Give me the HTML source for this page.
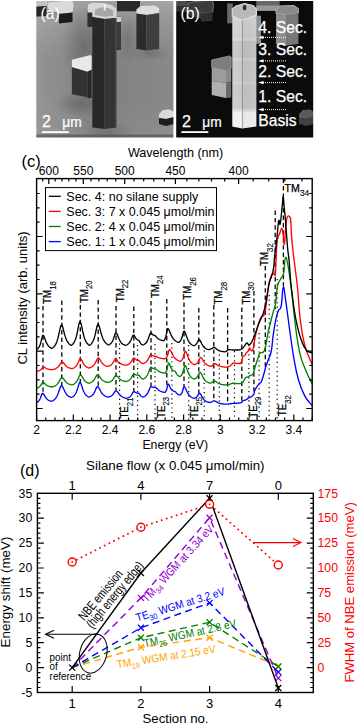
<!DOCTYPE html>
<html><head><meta charset="utf-8"><style>
html,body{margin:0;padding:0;background:#fff;overflow:hidden;width:357px;height:723px;}
svg{display:block;}
text{font-family:"Liberation Sans", sans-serif;}
</style></head><body>
<svg width="357" height="723" viewBox="0 0 357 723">
<defs>
<linearGradient id="bgA" x1="0" y1="0" x2="0" y2="1">
 <stop offset="0" stop-color="#a6a6a6"/><stop offset="0.17" stop-color="#939393"/>
 <stop offset="0.4" stop-color="#838383"/><stop offset="0.7" stop-color="#838383"/><stop offset="1" stop-color="#8b8b8b"/></linearGradient>
<linearGradient id="bgAh" x1="0" y1="0" x2="1" y2="0">
 <stop offset="0" stop-color="#ffffff" stop-opacity="0.16"/><stop offset="0.25" stop-color="#ffffff" stop-opacity="0.05"/>
 <stop offset="0.45" stop-color="#000000" stop-opacity="0.04"/><stop offset="0.8" stop-color="#ffffff" stop-opacity="0.02"/>
 <stop offset="1" stop-color="#ffffff" stop-opacity="0.06"/></linearGradient>
<radialGradient id="shA" cx="0.5" cy="0.5" r="0.5">
 <stop offset="0" stop-color="#5a5a5a" stop-opacity="0.7"/><stop offset="1" stop-color="#5a5a5a" stop-opacity="0"/></radialGradient>
<linearGradient id="pilB" x1="0" y1="0" x2="0" y2="1">
 <stop offset="0" stop-color="#d4d4d4"/><stop offset="0.21" stop-color="#cecece"/>
 <stop offset="0.215" stop-color="#d6d6d6"/><stop offset="0.235" stop-color="#d4d4d4"/>
 <stop offset="0.24" stop-color="#c4c4c4"/><stop offset="0.38" stop-color="#c6c6c6"/>
 <stop offset="0.385" stop-color="#d2d2d2"/><stop offset="0.41" stop-color="#d0d0d0"/>
 <stop offset="0.415" stop-color="#c8c8c8"/><stop offset="0.59" stop-color="#cacaca"/>
 <stop offset="0.595" stop-color="#d2d2d2"/><stop offset="0.62" stop-color="#cecece"/>
 <stop offset="0.625" stop-color="#c6c6c6"/><stop offset="0.83" stop-color="#cbcbcb"/>
 <stop offset="0.835" stop-color="#dcdcdc"/><stop offset="0.855" stop-color="#e6e6e6"/>
 <stop offset="0.86" stop-color="#f2f2f2"/><stop offset="1" stop-color="#f4f4f4"/></linearGradient>
<linearGradient id="pilBh" x1="0" y1="0" x2="1" y2="0">
 <stop offset="0" stop-color="#ffffff" stop-opacity="0.12"/><stop offset="0.4" stop-color="#ffffff" stop-opacity="0"/>
 <stop offset="0.42" stop-color="#000000" stop-opacity="0.05"/><stop offset="1" stop-color="#000000" stop-opacity="0.02"/></linearGradient>
<filter id="soft" x="-5%" y="-5%" width="110%" height="110%" color-interpolation-filters="sRGB"><feGaussianBlur stdDeviation="0.45"/></filter>
<clipPath id="clipA"><rect x="36.3" y="1" width="137.1" height="136.5"/></clipPath>
<clipPath id="clipB"><rect x="176.2" y="1" width="137" height="136.6"/></clipPath>
</defs>
<g clip-path="url(#clipA)"><g filter="url(#soft)">
<rect x="30" y="-5" width="150" height="150" fill="url(#bgA)"/>
<rect x="30" y="-5" width="150" height="150" fill="url(#bgAh)"/>
<ellipse cx="84" cy="45" rx="22" ry="38" fill="url(#shA)" opacity="0.75"/>
<ellipse cx="128" cy="38" rx="12" ry="26" fill="url(#shA)" opacity="0.6"/>
<ellipse cx="80" cy="104" rx="24" ry="13" fill="url(#shA)" opacity="0.85"/>
<ellipse cx="108" cy="131" rx="26" ry="9" fill="url(#shA)" opacity="0.6"/>
<ellipse cx="150" cy="53" rx="20" ry="8" fill="url(#shA)" opacity="0.6"/>
<polygon points="30,-2 47,-2 47,6 30,7" fill="#c2c2c2"/>
<polygon points="30,7 46.5,6 46.5,16 30,17" fill="#262626"/>
<polygon points="47.8,2.5 72.5,0 73.5,6 72.5,12.5 61,13.5 47.8,9" fill="#dadada"/>
<polygon points="47.8,9 59,14 59,21 47.8,17" fill="#8e8e8e"/>
<polygon points="59,14 72.5,12.5 72.5,22 59,23.5" fill="#1c1c1c"/>
<rect x="117" y="-2" width="23" height="13.3" fill="#2a2a2a"/>
<rect x="117" y="-2" width="23" height="3" fill="#7a7a7a"/>
<rect x="87.4" y="10" width="5.5" height="17" fill="#2e2e2e"/>
<rect x="115" y="16" width="6" height="34" fill="#3a3a3a"/>
<rect x="115" y="16.5" width="6" height="5.5" fill="#cccccc"/>
<polygon points="136.4,9.5 140.5,6 155,5.5 159.2,8.5 159.2,13 146.5,15 136.4,13.5" fill="#dedede"/>
<polygon points="136.4,13.5 146.5,15 146.5,50.5 136.4,49" fill="#2c2c2c"/>
<polygon points="146.5,15 159.2,13 159.2,49 146.5,50.5" fill="#3e3e3e"/>
<polygon points="71.9,59.7 90.4,55 91.6,56.3 91.6,69.7 87.4,71.7 71.9,67.2" fill="#e8e8e8"/>
<polygon points="71.9,67.2 87.4,71.7 87.4,97.3 71.9,94.3" fill="#323232"/>
<polygon points="87.4,71.7 91.6,69.7 91.6,97.9 87.4,98.3" fill="#262626"/>
<polygon points="92.3,16.8 104.6,18.8 104.6,129 92.3,127.5" fill="#282828"/>
<polygon points="104.6,18.8 116.4,17.5 116.4,127.5 104.6,129" fill="#343434"/>
<polygon points="87.4,12.5 88,4.5 92,2.8 104,3 112,5.3 116.5,9 116.5,17.8 104.6,18.8 92.3,16.8 92.3,12.5" fill="#d6d6d6"/>
<polygon points="95,9.5 104,6.8 113.3,10 113.3,16 104.6,16.8 95,15" fill="#a6a6a6"/>
<rect x="103.7" y="4.3" width="2" height="6.2" fill="#f2f2f2"/>
<line x1="116" y1="18" x2="116" y2="128" stroke="#5a5a5a" stroke-width="0.8"/>
<polygon points="159,114 163,110 170,109.5 174,112 174,117 166,119 159,118" fill="#dadada"/>
<polygon points="159,118 166,119 174,117 174,124 166,126 159,124" fill="#1e1e1e"/>
<rect x="30" y="134.5" width="150" height="4" fill="#4a4a4a" opacity="0.6"/>
</g>
<text x="40.4" y="19.3" font-size="15.8" fill="#fff" text-anchor="start" >(a)</text>
<text x="42.0" y="127.0" font-size="16" fill="#fff" text-anchor="start" stroke="#fff" stroke-width="0.25">2</text>
<text x="62.3" y="126.8" font-size="15.3" fill="#fff" stroke="#fff" stroke-width="0.25" transform="translate(62.3,0) scale(0.9,1) translate(-62.3,0)">μm</text>
<rect x="41.9" y="131.2" width="26.9" height="1.8" fill="#fff"/>
</g>
<g clip-path="url(#clipB)"><g filter="url(#soft)">
<rect x="170" y="-5" width="150" height="150" fill="#0b0b0b"/>
<polygon points="170,-2 187,-2 187,6 170,7" fill="#4a4a4a"/>
<polygon points="170,7 187,6 187,12 170,11" fill="#2e2e2e"/>
<polygon points="188,2.5 212.5,0 213.5,6 212.5,12 201,13 188,9" fill="#3c3c3c" stroke="#6a6a6a" stroke-width="1.2"/>
<polygon points="188,9 201,13 201,19 188,15" fill="#3a3a3a"/>
<polygon points="201,13 212.5,12 212.5,21 201,21.8" fill="#303030"/>
<rect x="256.3" y="-2" width="23.3" height="12.8" fill="#686868"/>
<rect x="256.3" y="5.5" width="23.3" height="5.3" fill="#9a9a9a"/>
<rect x="227.2" y="3.4" width="5.6" height="20" fill="#6a6a6a"/>
<rect x="255" y="15.7" width="6" height="28" fill="#909090"/>
<polygon points="276,9.5 280,6 294,5.5 298.4,8.5 298.4,13 286,15 276,13.5" fill="#8a8a8a" stroke="#b0b0b0" stroke-width="1"/>
<polygon points="276,13.5 286,15 286,45.5 276,44" fill="#8e8e8e"/>
<polygon points="286,15 298.4,13 298.4,44 286,45.5" fill="#787878"/>
<polygon points="211.7,60 229.5,55.9 231.2,57 231.2,68.5 226,70.5 211.7,67" fill="#7e7e7e" stroke="#a0a0a0" stroke-width="0.8"/>
<polygon points="211.7,67 226,70.5 226,83 211.7,81" fill="#9c9c9c"/>
<polygon points="226,70.5 231.2,68.5 231.2,82 226,83" fill="#8a8a8a"/>
<polygon points="211.7,81 226,83 226,98 211.7,95" fill="#b0b0b0"/>
<polygon points="226,83 231.2,82 231.2,97.5 226,98" fill="#686868"/>
<polygon points="232.3,14 242.4,18 242.4,128.5 232.3,126.5" fill="url(#pilB)"/>
<polygon points="242.4,18 256.4,14 256.4,126.5 242.4,128.5" fill="url(#pilB)"/>
<polygon points="232.3,14 242.4,18 256.4,14 256.4,128 242.4,129.5 232.3,127" fill="url(#pilBh)"/>
<polygon points="232.3,9 236,6 244.5,3.5 253,5.5 256.4,9 256.4,15 242.4,20 232.3,16" fill="#b8b8b8" stroke="#dadada" stroke-width="1.2"/>
<ellipse cx="244.6" cy="7.5" rx="1.8" ry="2.8" fill="#2a2a2a"/>
<line x1="242.4" y1="20" x2="242.4" y2="128" stroke="#9a9a9a" stroke-width="0.6"/>
<polygon points="299,114 303,110 310,109.5 314,112 314,117 306,119 299,118" fill="#5a5a5a"/>
<polygon points="299,118 306,119 314,117 314,124 306,126 299,124" fill="#404040"/>
</g>
<text x="180.4" y="19.3" font-size="15.8" fill="#fff" text-anchor="start" >(b)</text>
<text x="182.0" y="127.0" font-size="16" fill="#fff" text-anchor="start" stroke="#fff" stroke-width="0.25">2</text>
<text x="202.3" y="126.8" font-size="15.3" fill="#fff" stroke="#fff" stroke-width="0.25" transform="translate(202.3,0) scale(0.9,1) translate(-202.3,0)">μm</text>
<rect x="181.4" y="131.2" width="26.9" height="1.8" fill="#fff"/>
<text x="258.3" y="33.2" font-size="15.7" fill="#fff" text-anchor="start" stroke="#fff" stroke-width="0.25">4. Sec.</text>
<text x="258.3" y="54.7" font-size="15.7" fill="#fff" text-anchor="start" stroke="#fff" stroke-width="0.25">3. Sec.</text>
<text x="258.3" y="77.0" font-size="15.7" fill="#fff" text-anchor="start" stroke="#fff" stroke-width="0.25">2. Sec.</text>
<text x="258.3" y="102.0" font-size="15.7" fill="#fff" text-anchor="start" stroke="#fff" stroke-width="0.25">1. Sec.</text>
<text x="258.3" y="125.6" font-size="15.7" fill="#fff" text-anchor="start" stroke="#fff" stroke-width="0.25">Basis</text>
<line x1="263" y1="37.4" x2="287" y2="37.4" stroke="#fff" stroke-width="1" stroke-dasharray="1,1"/>
<polygon points="258,37.4 263.5,35.8 263.5,39.0" fill="#fff"/>
<line x1="263" y1="60.9" x2="287" y2="60.9" stroke="#fff" stroke-width="1" stroke-dasharray="1,1"/>
<polygon points="258,60.9 263.5,59.3 263.5,62.5" fill="#fff"/>
<line x1="263" y1="82.6" x2="287" y2="82.6" stroke="#fff" stroke-width="1" stroke-dasharray="1,1"/>
<polygon points="258,82.6 263.5,81.0 263.5,84.2" fill="#fff"/>
<line x1="263" y1="109.6" x2="287" y2="109.6" stroke="#fff" stroke-width="1" stroke-dasharray="1,1"/>
<polygon points="258,109.6 263.5,108.0 263.5,111.2" fill="#fff"/>
</g>
<defs><clipPath id="clipC"><rect x="36.6" y="178.6" width="275.6" height="242.0"/></clipPath></defs>
<g clip-path="url(#clipC)">
<line x1="43.0" y1="306.0" x2="43.0" y2="393.2" stroke="#000" stroke-width="1.3" stroke-dasharray="4.4,3"/>
<line x1="61.8" y1="300.5" x2="61.8" y2="385.6" stroke="#000" stroke-width="1.3" stroke-dasharray="4.4,3"/>
<line x1="80.3" y1="305.0" x2="80.3" y2="382.4" stroke="#000" stroke-width="1.3" stroke-dasharray="4.4,3"/>
<line x1="98.2" y1="300.0" x2="98.2" y2="386.8" stroke="#000" stroke-width="1.3" stroke-dasharray="4.4,3"/>
<line x1="116.0" y1="306.0" x2="116.0" y2="390.3" stroke="#000" stroke-width="1.3" stroke-dasharray="4.4,3"/>
<line x1="133.8" y1="306.5" x2="133.8" y2="391.3" stroke="#000" stroke-width="1.3" stroke-dasharray="4.4,3"/>
<line x1="151.0" y1="301.0" x2="151.0" y2="386.1" stroke="#000" stroke-width="1.3" stroke-dasharray="4.4,3"/>
<line x1="166.8" y1="299.0" x2="166.8" y2="386.9" stroke="#000" stroke-width="1.3" stroke-dasharray="4.4,3"/>
<line x1="184.0" y1="302.5" x2="184.0" y2="386.1" stroke="#000" stroke-width="1.3" stroke-dasharray="4.4,3"/>
<line x1="198.8" y1="308.0" x2="198.8" y2="393.4" stroke="#000" stroke-width="1.3" stroke-dasharray="4.4,3"/>
<line x1="213.8" y1="305.0" x2="213.8" y2="400.3" stroke="#000" stroke-width="1.3" stroke-dasharray="4.4,3"/>
<line x1="227.6" y1="308.0" x2="227.6" y2="403.5" stroke="#000" stroke-width="1.3" stroke-dasharray="4.4,3"/>
<line x1="241.8" y1="307.5" x2="241.8" y2="401.1" stroke="#000" stroke-width="1.3" stroke-dasharray="4.4,3"/>
<line x1="253.9" y1="291.0" x2="253.9" y2="392.8" stroke="#000" stroke-width="1.3" stroke-dasharray="4.4,3"/>
<line x1="265.3" y1="266.0" x2="265.3" y2="368.1" stroke="#000" stroke-width="1.3" stroke-dasharray="4.4,3"/>
<line x1="275.2" y1="210.5" x2="275.2" y2="309.0" stroke="#000" stroke-width="1.3" stroke-dasharray="4.4,3"/>
<line x1="283.4" y1="178.6" x2="283.4" y2="288.0" stroke="#000" stroke-width="1.3" stroke-dasharray="4.4,3"/>
<line x1="119.6" y1="343.5" x2="119.6" y2="420.6" stroke="#000" stroke-width="1.2" stroke-dasharray="1.2,3.4"/>
<line x1="137.6" y1="345.0" x2="137.6" y2="420.6" stroke="#000" stroke-width="1.2" stroke-dasharray="1.2,3.4"/>
<line x1="155.0" y1="344.0" x2="155.0" y2="420.6" stroke="#000" stroke-width="1.2" stroke-dasharray="1.2,3.4"/>
<line x1="171.9" y1="343.0" x2="171.9" y2="420.6" stroke="#000" stroke-width="1.2" stroke-dasharray="1.2,3.4"/>
<line x1="188.7" y1="345.0" x2="188.7" y2="420.6" stroke="#000" stroke-width="1.2" stroke-dasharray="1.2,3.4"/>
<line x1="204.2" y1="346.0" x2="204.2" y2="420.6" stroke="#000" stroke-width="1.2" stroke-dasharray="1.2,3.4"/>
<line x1="219.3" y1="350.0" x2="219.3" y2="420.6" stroke="#000" stroke-width="1.2" stroke-dasharray="1.2,3.4"/>
<line x1="234.5" y1="351.0" x2="234.5" y2="420.6" stroke="#000" stroke-width="1.2" stroke-dasharray="1.2,3.4"/>
<line x1="248.9" y1="345.0" x2="248.9" y2="420.6" stroke="#000" stroke-width="1.2" stroke-dasharray="1.2,3.4"/>
<line x1="259.1" y1="333.0" x2="259.1" y2="420.6" stroke="#000" stroke-width="1.2" stroke-dasharray="1.2,3.4"/>
<line x1="269.2" y1="295.0" x2="269.2" y2="420.6" stroke="#000" stroke-width="1.2" stroke-dasharray="1.2,3.4"/>
<line x1="277.2" y1="279.0" x2="277.2" y2="420.6" stroke="#000" stroke-width="1.2" stroke-dasharray="1.2,3.4"/>
</g>
<g clip-path="url(#clipC)" fill="none" stroke-width="1.35" stroke-linejoin="round">
<path d="M36.50,402.50 L37.00,402.28 L37.50,402.01 L38.00,401.66 L38.50,401.22 L39.00,400.66 L39.50,399.93 L40.00,399.00 L40.50,397.83 L41.00,396.44 L41.50,394.97 L42.00,393.77 L42.50,393.30 L43.00,393.49 L43.50,394.01 L44.00,394.75 L44.50,395.60 L45.00,396.45 L45.50,397.24 L46.00,397.94 L46.50,398.55 L47.00,399.07 L47.50,399.51 L48.00,399.88 L48.50,400.19 L49.00,400.45 L49.50,400.68 L50.00,400.87 L50.50,401.04 L51.00,401.18 L51.50,401.30 L52.00,401.09 L52.50,400.84 L53.00,400.56 L53.50,400.25 L54.00,399.88 L54.50,399.46 L55.00,398.96 L55.50,398.39 L56.00,397.73 L56.50,396.95 L57.00,396.05 L57.50,395.00 L58.00,393.81 L58.50,392.47 L59.00,391.02 L59.50,389.51 L60.00,388.06 L60.50,386.83 L61.00,386.00 L61.50,385.70 L62.00,385.93 L62.50,386.56 L63.00,387.49 L63.50,388.58 L64.00,389.72 L64.50,390.82 L65.00,391.84 L65.50,392.74 L66.00,393.53 L66.50,394.21 L67.00,394.80 L67.50,395.30 L68.00,395.73 L68.50,396.10 L69.00,396.43 L69.50,396.70 L70.00,396.94 L70.50,397.15 L71.00,397.34 L71.50,397.50 L72.00,397.25 L72.50,396.97 L73.00,396.63 L73.50,396.23 L74.00,395.77 L74.50,395.21 L75.00,394.54 L75.50,393.75 L76.00,392.79 L76.50,391.66 L77.00,390.32 L77.50,388.80 L78.00,387.12 L78.50,385.41 L79.00,383.88 L79.50,382.80 L80.00,382.40 L80.50,382.74 L81.00,383.70 L81.50,385.07 L82.00,386.62 L82.50,388.18 L83.00,389.64 L83.50,390.93 L84.00,392.05 L84.50,393.00 L85.00,393.81 L85.50,394.49 L86.00,395.06 L86.50,395.55 L87.00,395.96 L87.50,396.31 L88.00,396.61 L88.50,396.87 L89.00,397.10 L89.50,396.93 L90.00,396.73 L90.50,396.49 L91.00,396.22 L91.50,395.89 L92.00,395.51 L92.50,395.04 L93.00,394.49 L93.50,393.83 L94.00,393.04 L94.50,392.11 L95.00,391.05 L95.50,389.88 L96.00,388.70 L96.50,387.63 L97.00,386.88 L97.50,386.60 L98.00,386.78 L98.50,387.30 L99.00,388.06 L99.50,388.97 L100.00,389.94 L100.50,390.89 L101.00,391.77 L101.50,392.57 L102.00,393.28 L102.50,393.89 L103.00,394.43 L103.50,394.90 L104.00,395.30 L104.50,395.64 L105.00,395.94 L105.50,396.21 L106.00,396.43 L106.50,396.63 L107.00,396.81 L107.50,396.96 L108.00,397.10 L108.50,396.99 L109.00,396.86 L109.50,396.71 L110.00,396.53 L110.50,396.31 L111.00,396.05 L111.50,395.73 L112.00,395.34 L112.50,394.88 L113.00,394.32 L113.50,393.68 L114.00,392.95 L114.50,392.19 L115.00,391.49 L115.50,390.99 L116.00,390.80 L116.50,390.93 L117.00,391.30 L117.50,391.84 L118.00,392.50 L118.50,393.19 L119.00,393.86 L119.50,394.49 L120.00,395.06 L120.50,395.57 L121.00,396.01 L121.50,396.39 L122.00,396.73 L122.50,397.01 L123.00,397.26 L123.50,397.47 L124.00,397.66 L124.50,397.82 L125.00,397.97 L125.50,398.09 L126.00,398.20 L126.50,398.30 L127.00,398.17 L127.50,398.03 L128.00,397.85 L128.50,397.63 L129.00,397.37 L129.50,397.05 L130.00,396.66 L130.50,396.18 L131.00,395.60 L131.50,394.90 L132.00,394.10 L132.50,393.24 L133.00,392.43 L133.50,391.82 L134.00,391.60 L134.50,391.72 L135.00,392.02 L135.50,392.34 L136.00,392.61 L136.50,392.83 L137.00,392.98 L137.50,393.10 L138.00,393.19 L138.50,393.25 L139.00,393.30 L139.50,393.72 L140.00,394.60 L140.50,395.43 L141.00,396.04 L141.50,396.46 L142.00,396.75 L142.50,396.96 L143.00,397.10 L143.50,396.92 L144.00,396.70 L144.50,396.45 L145.00,396.14 L145.50,395.78 L146.00,395.34 L146.50,394.81 L147.00,394.17 L147.50,393.40 L148.00,392.47 L148.50,391.39 L149.00,390.18 L149.50,388.91 L150.00,387.75 L150.50,386.91 L151.00,386.60 L151.50,386.69 L152.00,386.87 L152.50,387.05 L153.00,387.18 L153.50,387.27 L154.00,387.33 L154.50,387.37 L155.00,387.40 L155.50,387.50 L156.00,387.76 L156.50,388.16 L157.00,388.62 L157.50,389.10 L158.00,389.57 L158.50,390.00 L159.00,390.38 L159.50,390.72 L160.00,391.01 L160.50,391.25 L161.00,391.47 L161.50,391.65 L162.00,391.81 L162.50,391.94 L163.00,392.06 L163.50,392.16 L164.00,392.25 L164.50,392.33 L165.00,392.40 L165.50,391.95 L166.00,391.23 L166.50,390.06 L167.00,388.14 L167.50,385.52 L168.00,384.00 L168.50,384.29 L169.00,385.06 L169.50,386.07 L170.00,387.10 L170.50,388.04 L171.00,388.83 L171.50,389.48 L172.00,390.00 L172.50,390.42 L173.00,390.76 L173.50,391.04 L174.00,391.26 L174.50,391.45 L175.00,391.60 L175.50,391.85 L176.00,392.43 L176.50,393.08 L177.00,393.63 L177.50,394.05 L178.00,394.37 L178.50,394.60 L179.00,394.77 L179.50,394.90 L180.00,395.00 L180.50,394.68 L181.00,394.23 L181.50,393.59 L182.00,392.66 L182.50,391.30 L183.00,389.46 L183.50,387.52 L184.00,386.60 L184.50,386.82 L185.00,387.45 L185.50,388.37 L186.00,389.46 L186.50,390.59 L187.00,391.68 L187.50,392.68 L188.00,393.58 L188.50,394.36 L189.00,395.04 L189.50,395.62 L190.00,396.12 L190.50,396.55 L191.00,396.92 L191.50,397.23 L192.00,397.51 L192.50,397.75 L193.00,397.96 L193.50,398.14 L194.00,398.30 L194.50,398.17 L195.00,398.00 L195.50,397.79 L196.00,397.50 L196.50,397.13 L197.00,396.64 L197.50,396.01 L198.00,395.22 L198.50,394.35 L199.00,393.60 L199.50,393.30 L200.01,393.49 L200.52,394.04 L201.03,394.82 L201.54,395.73 L202.05,396.67 L202.56,397.55 L203.07,398.35 L203.58,399.06 L204.09,399.66 L204.61,400.18 L205.12,400.63 L205.63,401.00 L206.14,401.33 L206.65,401.60 L207.16,401.84 L207.67,402.04 L208.18,402.21 L208.69,402.37 L209.20,402.50 L209.71,402.44 L210.22,402.37 L210.73,402.26 L211.24,402.12 L211.76,401.92 L212.27,401.64 L212.78,401.29 L213.29,400.95 L213.80,400.80 L214.32,400.85 L214.84,401.01 L215.35,401.24 L215.87,401.51 L216.39,401.81 L216.91,402.11 L217.43,402.39 L217.95,402.64 L218.46,402.87 L218.98,403.07 L219.50,403.25 L220.02,403.41 L220.54,403.54 L221.05,403.66 L221.57,403.76 L222.09,403.85 L222.61,403.93 L223.13,404.00 L223.65,404.06 L224.16,404.11 L224.68,404.16 L225.20,404.20 L225.72,404.19 L226.24,404.17 L226.76,404.15 L227.28,404.12 L227.80,404.09 L228.32,404.05 L228.84,404.00 L229.36,403.95 L229.88,403.88 L230.40,403.79 L230.92,403.70 L231.44,403.60 L231.96,403.50 L232.48,403.43 L233.00,403.40 L233.50,403.39 L234.00,403.38 L234.50,403.36 L235.00,403.34 L235.50,403.32 L236.00,403.30 L236.50,403.26 L237.00,403.22 L237.50,403.17 L238.00,403.10 L238.50,403.04 L239.00,402.97 L239.50,402.92 L240.00,402.90 L240.57,402.77 L241.13,402.57 L241.70,402.23 L242.27,401.68 L242.83,400.94 L243.40,400.50 L243.94,400.42 L244.48,400.32 L245.02,400.18 L245.56,400.00 L246.10,399.75 L246.64,399.41 L247.18,398.97 L247.72,398.46 L248.26,398.00 L248.80,397.80 L248.8,397.8 C249.9,397.2 251.8,397.0 253.3,395.1 C254.8,393.2 253.8,392.2 255.1,389.7 C256.4,387.2 257.2,386.2 258.7,384.3 C260.2,382.4 260.2,384.1 261.4,381.6 C262.6,379.1 262.9,377.1 264.0,373.5 C265.1,369.9 264.8,369.7 265.9,366.3 C267.0,362.9 267.3,362.7 268.6,359.1 C269.9,355.5 270.2,356.4 271.3,351.0 C272.4,345.6 272.1,343.1 273.1,335.8 C274.2,328.5 274.5,325.5 275.8,319.6 C277.1,313.7 277.2,313.8 278.5,310.6 C279.8,307.4 280.1,311.4 281.2,306.0 C282.3,300.6 282.2,289.1 283.2,287.5 C284.2,285.9 284.1,290.0 285.5,299.1 C286.9,308.2 287.3,312.8 289.2,326.4 C291.1,340.0 291.6,345.1 293.7,357.4 C295.8,369.7 295.8,370.4 298.3,379.3 C300.8,388.2 301.4,389.4 304.6,395.6 C307.8,401.8 310.4,403.3 312.2,405.7" stroke="#0000ff"/>
<path d="M36.50,388.20 L37.00,388.07 L37.50,387.92 L38.00,387.73 L38.50,387.49 L39.00,387.19 L39.50,386.81 L40.00,386.33 L40.50,385.73 L41.00,385.00 L41.50,384.16 L42.00,383.32 L42.50,382.66 L43.00,382.40 L43.50,382.51 L44.00,382.81 L44.50,383.23 L45.00,383.72 L45.50,384.21 L46.00,384.66 L46.50,385.07 L47.00,385.42 L47.50,385.72 L48.00,385.97 L48.50,386.18 L49.00,386.36 L49.50,386.51 L50.00,386.64 L50.50,386.75 L51.00,386.85 L51.50,386.93 L52.00,387.00 L52.50,386.87 L53.00,386.72 L53.50,386.56 L54.00,386.36 L54.50,386.14 L55.00,385.89 L55.50,385.59 L56.00,385.25 L56.50,384.85 L57.00,384.38 L57.50,383.84 L58.00,383.21 L58.50,382.49 L59.00,381.68 L59.50,380.80 L60.00,379.90 L60.50,379.02 L61.00,378.28 L61.50,377.78 L62.00,377.60 L62.50,377.74 L63.00,378.13 L63.50,378.71 L64.00,379.38 L64.50,380.09 L65.00,380.77 L65.50,381.40 L66.00,381.95 L66.50,382.44 L67.00,382.86 L67.50,383.23 L68.00,383.54 L68.50,383.81 L69.00,384.04 L69.50,384.23 L70.00,384.41 L70.50,384.56 L71.00,384.69 L71.50,384.80 L72.00,384.90 L72.50,384.73 L73.00,384.54 L73.50,384.32 L74.00,384.05 L74.50,383.74 L75.00,383.37 L75.50,382.92 L76.00,382.39 L76.50,381.75 L77.00,380.99 L77.50,380.10 L78.00,379.08 L78.50,377.96 L79.00,376.82 L79.50,375.79 L80.00,375.06 L80.50,374.80 L81.00,375.02 L81.50,375.63 L82.00,376.48 L82.50,377.43 L83.00,378.36 L83.50,379.21 L84.00,379.95 L84.50,380.58 L85.00,381.11 L85.50,381.55 L86.00,381.93 L86.50,382.24 L87.00,382.50 L87.50,382.72 L88.00,382.90 L88.50,383.06 L89.00,383.20 L89.50,383.06 L90.00,382.90 L90.50,382.72 L91.00,382.50 L91.50,382.24 L92.00,381.93 L92.50,381.55 L93.00,381.11 L93.50,380.58 L94.00,379.95 L94.50,379.21 L95.00,378.36 L95.50,377.43 L96.00,376.48 L96.50,375.63 L97.00,375.02 L97.50,374.80 L98.00,374.93 L98.50,375.30 L99.00,375.86 L99.50,376.52 L100.00,377.22 L100.50,377.90 L101.00,378.54 L101.50,379.12 L102.00,379.63 L102.50,380.08 L103.00,380.47 L103.50,380.80 L104.00,381.09 L104.50,381.35 L105.00,381.56 L105.50,381.75 L106.00,381.92 L106.50,382.06 L107.00,382.19 L107.50,382.30 L108.00,382.40 L108.50,382.28 L109.00,382.14 L109.50,381.98 L110.00,381.78 L110.50,381.55 L111.00,381.26 L111.50,380.92 L112.00,380.50 L112.50,380.00 L113.00,379.40 L113.50,378.70 L114.00,377.92 L114.50,377.10 L115.00,376.35 L115.50,375.80 L116.00,375.60 L116.50,375.71 L117.00,376.03 L117.50,376.49 L118.00,377.04 L118.50,377.61 L119.00,378.16 L119.50,378.67 L120.00,379.12 L120.50,379.51 L121.00,379.86 L121.50,380.15 L122.00,380.40 L122.50,380.62 L123.00,380.80 L123.50,380.96 L124.00,381.10 L124.50,381.22 L125.00,381.33 L125.50,381.42 L126.00,381.50 L126.50,381.37 L127.00,381.22 L127.50,381.03 L128.00,380.82 L128.50,380.56 L129.00,380.24 L129.50,379.87 L130.00,379.41 L130.50,378.86 L131.00,378.20 L131.50,377.42 L132.00,376.56 L132.50,375.65 L133.00,374.82 L133.50,374.22 L134.00,374.00 L134.50,374.09 L135.00,374.32 L135.50,374.56 L136.00,374.78 L136.50,374.94 L137.00,375.06 L137.50,375.15 L138.00,375.21 L138.50,375.26 L139.00,375.30 L139.50,375.71 L140.00,376.56 L140.50,377.37 L141.00,377.97 L141.50,378.38 L142.00,378.66 L142.50,378.86 L143.00,379.00 L143.50,378.79 L144.00,378.55 L144.50,378.27 L145.00,377.93 L145.50,377.52 L146.00,377.02 L146.50,376.43 L147.00,375.71 L147.50,374.84 L148.00,373.80 L148.50,372.59 L149.00,371.22 L149.50,369.80 L150.00,368.49 L150.50,367.55 L151.00,367.20 L151.50,367.39 L152.00,367.78 L152.50,368.15 L153.00,368.43 L153.50,368.62 L154.00,368.75 L154.50,368.84 L155.00,368.90 L155.50,368.98 L156.00,369.21 L156.50,369.54 L157.00,369.93 L157.50,370.33 L158.00,370.72 L158.50,371.08 L159.00,371.41 L159.50,371.69 L160.00,371.93 L160.50,372.14 L161.00,372.32 L161.50,372.47 L162.00,372.60 L162.50,372.72 L163.00,372.82 L163.50,372.90 L164.00,372.98 L164.50,373.04 L165.00,373.10 L165.50,372.65 L166.00,371.99 L166.50,370.98 L167.00,369.42 L167.50,367.12 L168.00,364.41 L168.50,363.00 L169.00,363.37 L169.50,364.33 L170.00,365.55 L170.50,366.76 L171.00,367.82 L171.50,368.69 L172.00,369.38 L172.50,369.93 L173.00,370.37 L173.50,370.71 L174.00,370.99 L174.50,371.22 L175.00,371.40 L175.50,371.77 L176.00,372.65 L176.50,373.61 L177.00,374.44 L177.50,375.08 L178.00,375.55 L178.50,375.90 L179.00,376.16 L179.50,376.35 L180.00,376.50 L180.50,376.18 L181.00,375.76 L181.50,375.20 L182.00,374.45 L182.50,373.43 L183.00,372.06 L183.50,370.28 L184.00,368.19 L184.50,366.30 L185.00,365.50 L185.50,365.82 L186.00,366.69 L186.50,367.95 L187.00,369.38 L187.50,370.81 L188.00,372.15 L188.50,373.33 L189.00,374.36 L189.50,375.24 L190.00,375.98 L190.50,376.60 L191.00,377.13 L191.50,377.57 L192.00,377.95 L192.50,378.28 L193.00,378.55 L193.50,378.79 L194.00,379.00 L194.50,378.84 L195.00,378.65 L195.50,378.40 L196.00,378.08 L196.50,377.68 L197.00,377.16 L197.50,376.49 L198.00,375.65 L198.50,374.65 L199.00,373.60 L199.50,372.74 L200.00,372.40 L200.50,372.61 L201.00,373.19 L201.50,374.04 L202.00,375.04 L202.50,376.08 L203.00,377.09 L203.50,378.02 L204.00,378.84 L204.50,379.56 L205.00,380.19 L205.50,380.73 L206.00,381.19 L206.50,381.58 L207.00,381.92 L207.50,382.22 L208.00,382.47 L208.50,382.69 L209.00,382.88 L209.50,383.05 L210.00,383.20 L210.54,383.09 L211.09,382.92 L211.63,382.68 L212.17,382.29 L212.71,381.72 L213.26,381.05 L213.80,380.70 L214.32,380.77 L214.84,380.96 L215.35,381.24 L215.87,381.58 L216.39,381.95 L216.91,382.31 L217.43,382.66 L217.95,382.98 L218.46,383.26 L218.98,383.51 L219.50,383.73 L220.02,383.92 L220.54,384.09 L221.05,384.23 L221.57,384.36 L222.09,384.47 L222.61,384.56 L223.13,384.65 L223.65,384.72 L224.16,384.79 L224.68,384.85 L225.20,384.90 L225.72,384.87 L226.24,384.83 L226.76,384.79 L227.28,384.73 L227.80,384.66 L228.32,384.58 L228.84,384.48 L229.36,384.36 L229.88,384.21 L230.40,384.04 L230.92,383.83 L231.44,383.62 L231.96,383.41 L232.48,383.26 L233.00,383.20 L233.50,383.22 L234.00,383.27 L234.50,383.34 L235.00,383.40 L235.50,383.47 L236.00,383.52 L236.50,383.56 L237.00,383.60 L237.50,383.62 L238.00,383.64 L238.50,383.66 L239.00,383.68 L239.50,383.69 L240.00,383.70 L240.50,383.55 L241.00,383.36 L241.50,383.12 L242.00,382.81 L242.50,382.42 L243.00,381.92 L243.50,381.27 L244.00,380.45 L244.50,379.48 L245.00,378.46 L245.50,377.63 L246.00,377.30 L246.50,377.24 L247.00,377.15 L247.50,377.02 L248.00,376.83 L248.50,376.55 L249.00,376.18 L249.50,375.79 L250.00,375.60 L250.0,375.6 C250.7,375.2 251.8,376.0 253.0,374.0 C254.2,372.0 253.8,370.9 255.0,367.2 C256.2,363.5 256.8,361.3 258.0,358.0 C259.2,354.7 258.5,354.8 260.0,353.0 C261.5,351.2 262.7,355.0 264.6,350.1 C266.5,345.2 266.3,340.4 268.2,331.9 C270.1,323.4 271.1,320.3 272.8,313.7 C274.5,307.1 274.5,309.2 275.5,303.7 C276.5,298.2 276.4,294.6 277.0,290.0 C277.6,285.4 277.3,286.5 278.2,283.8 C279.1,281.1 279.7,280.9 281.0,278.4 C282.3,275.9 282.6,277.8 283.7,272.9 C284.8,268.0 284.4,258.7 285.5,257.4 C286.6,256.1 287.2,261.7 288.3,267.4 C289.4,273.1 289.5,275.2 290.4,282.0 C291.3,288.8 291.1,286.2 292.3,296.6 C293.5,307.0 293.7,313.1 295.5,326.4 C297.3,339.7 297.4,343.2 300.0,353.8 C302.6,364.4 303.7,365.0 306.5,372.0 C309.3,379.0 310.9,381.0 312.2,383.8" stroke="#008000"/>
<path d="M36.50,371.40 L37.00,371.32 L37.50,371.21 L38.00,371.09 L38.50,370.94 L39.00,370.75 L39.50,370.52 L40.00,370.23 L40.50,369.87 L41.00,369.43 L41.50,368.91 L42.00,368.34 L42.50,367.78 L43.00,367.36 L43.50,367.20 L44.00,367.27 L44.50,367.45 L45.00,367.70 L45.50,367.98 L46.00,368.26 L46.50,368.51 L47.00,368.73 L47.50,368.92 L48.00,369.08 L48.50,369.21 L49.00,369.32 L49.50,369.41 L50.00,369.49 L50.50,369.56 L51.00,369.61 L51.50,369.66 L52.00,369.70 L52.52,369.60 L53.03,369.48 L53.55,369.35 L54.06,369.19 L54.58,369.02 L55.09,368.81 L55.60,368.58 L56.12,368.30 L56.63,367.98 L57.15,367.61 L57.66,367.18 L58.18,366.67 L58.70,366.10 L59.21,365.46 L59.72,364.76 L60.24,364.03 L60.75,363.34 L61.27,362.75 L61.78,362.34 L62.30,362.20 L62.81,362.34 L63.32,362.71 L63.83,363.26 L64.34,363.89 L64.85,364.54 L65.36,365.16 L65.87,365.72 L66.38,366.20 L66.89,366.63 L67.41,366.99 L67.92,367.30 L68.43,367.56 L68.94,367.78 L69.45,367.97 L69.96,368.14 L70.47,368.28 L70.98,368.40 L71.49,368.51 L72.00,368.60 L72.50,368.44 L73.00,368.25 L73.50,368.04 L74.00,367.78 L74.50,367.47 L75.00,367.11 L75.50,366.68 L76.00,366.16 L76.50,365.54 L77.00,364.81 L77.50,363.94 L78.00,362.95 L78.50,361.86 L79.00,360.76 L79.50,359.76 L80.00,359.06 L80.50,358.80 L81.00,359.04 L81.50,359.70 L82.00,360.64 L82.50,361.68 L83.00,362.70 L83.50,363.63 L84.00,364.44 L84.50,365.13 L85.00,365.71 L85.50,366.20 L86.00,366.60 L86.50,366.94 L87.00,367.23 L87.50,367.47 L88.00,367.67 L88.50,367.85 L89.00,368.00 L89.52,367.85 L90.04,367.67 L90.57,367.46 L91.09,367.22 L91.61,366.94 L92.13,366.61 L92.66,366.22 L93.18,365.76 L93.70,365.21 L94.22,364.56 L94.74,363.80 L95.27,362.92 L95.79,361.94 L96.31,360.87 L96.83,359.81 L97.36,358.88 L97.88,358.23 L98.40,358.00 L98.91,358.20 L99.42,358.74 L99.93,359.52 L100.44,360.41 L100.96,361.31 L101.47,362.14 L101.98,362.87 L102.49,363.51 L103.00,364.06 L103.51,364.52 L104.02,364.91 L104.53,365.23 L105.04,365.51 L105.56,365.75 L106.07,365.95 L106.58,366.12 L107.09,366.27 L107.60,366.40 L108.12,366.26 L108.65,366.10 L109.17,365.91 L109.70,365.68 L110.22,365.41 L110.75,365.08 L111.27,364.68 L111.80,364.20 L112.33,363.62 L112.85,362.92 L113.38,362.11 L113.90,361.19 L114.42,360.24 L114.95,359.37 L115.47,358.73 L116.00,358.50 L116.50,359.05 L117.00,360.20 L117.50,361.30 L118.00,362.11 L118.50,362.66 L119.00,363.04 L119.50,363.31 L120.00,363.50 L120.50,363.59 L121.00,363.81 L121.50,364.08 L122.00,364.34 L122.50,364.55 L123.00,364.73 L123.50,364.86 L124.00,364.96 L124.50,365.05 L125.00,365.11 L125.50,365.16 L126.00,365.20 L126.50,365.07 L127.00,364.93 L127.50,364.75 L128.00,364.54 L128.50,364.29 L129.00,363.99 L129.50,363.63 L130.00,363.19 L130.50,362.66 L131.00,362.03 L131.50,361.29 L132.00,360.45 L132.50,359.59 L133.00,358.79 L133.50,358.21 L134.00,358.00 L134.50,358.20 L135.00,358.68 L135.50,359.22 L136.00,359.67 L136.50,360.02 L137.00,360.28 L137.50,360.47 L138.00,360.61 L138.50,360.72 L139.00,360.80 L139.50,361.10 L140.00,361.72 L140.50,362.31 L141.00,362.75 L141.50,363.05 L142.00,363.25 L142.50,363.40 L143.00,363.50 L143.50,363.34 L144.00,363.16 L144.50,362.95 L145.00,362.69 L145.50,362.38 L146.00,362.01 L146.50,361.56 L147.00,361.02 L147.50,360.36 L148.00,359.58 L148.50,358.66 L149.00,357.63 L149.50,356.56 L150.00,355.58 L150.50,354.86 L151.00,354.60 L151.50,354.79 L152.00,355.18 L152.50,355.55 L153.00,355.83 L153.50,356.02 L154.00,356.15 L154.50,356.24 L155.00,356.30 L155.50,356.35 L156.00,356.48 L156.50,356.68 L157.00,356.91 L157.50,357.15 L158.00,357.39 L158.50,357.60 L159.00,357.79 L159.50,357.96 L160.00,358.10 L160.50,358.23 L161.00,358.33 L161.50,358.43 L162.00,358.50 L162.50,358.57 L163.00,358.63 L163.50,358.68 L164.00,358.73 L164.50,358.77 L165.00,358.80 L165.55,358.45 L166.10,357.96 L166.65,357.26 L167.20,356.23 L167.75,354.75 L168.30,352.74 L168.85,350.61 L169.40,349.60 L169.92,349.80 L170.44,350.38 L170.96,351.23 L171.48,352.25 L172.00,353.32 L172.51,354.38 L173.03,355.36 L173.55,356.25 L174.07,357.04 L174.59,357.73 L175.11,358.33 L175.63,358.84 L176.15,359.29 L176.67,359.68 L177.19,360.01 L177.70,360.30 L178.22,360.56 L178.74,360.78 L179.26,360.98 L179.78,361.15 L180.30,361.30 L180.80,361.01 L181.30,360.62 L181.80,360.12 L182.30,359.44 L182.80,358.51 L183.30,357.26 L183.80,355.64 L184.30,353.74 L184.80,352.03 L185.30,351.30 L185.82,351.61 L186.33,352.48 L186.85,353.73 L187.37,355.15 L187.88,356.57 L188.40,357.90 L188.92,359.08 L189.43,360.10 L189.95,360.96 L190.47,361.70 L190.98,362.32 L191.50,362.84 L192.02,363.28 L192.53,363.66 L193.05,363.98 L193.57,364.26 L194.08,364.49 L194.60,364.70 L195.14,364.51 L195.67,364.27 L196.21,363.96 L196.75,363.55 L197.28,363.02 L197.82,362.32 L198.35,361.40 L198.89,360.27 L199.43,359.01 L199.96,357.94 L200.50,357.50 L201.00,357.65 L201.50,358.09 L202.00,358.74 L202.50,359.51 L203.00,360.33 L203.50,361.13 L204.00,361.88 L204.50,362.56 L205.00,363.16 L205.50,363.68 L206.00,364.14 L206.50,364.53 L207.00,364.87 L207.50,365.17 L208.00,365.42 L208.50,365.64 L209.00,365.84 L209.50,366.00 L210.00,366.15 L210.50,366.28 L211.00,366.40 L211.56,366.20 L212.12,365.86 L212.68,365.23 L213.24,364.21 L213.80,363.50 L214.31,363.55 L214.82,363.69 L215.33,363.91 L215.83,364.17 L216.34,364.46 L216.85,364.76 L217.36,365.05 L217.87,365.32 L218.38,365.57 L218.88,365.79 L219.39,365.99 L219.90,366.17 L220.41,366.32 L220.92,366.46 L221.43,366.58 L221.93,366.69 L222.44,366.78 L222.95,366.86 L223.46,366.94 L223.97,367.00 L224.47,367.06 L224.98,367.11 L225.49,367.16 L226.00,367.20 L226.51,367.12 L227.01,367.03 L227.52,366.92 L228.03,366.78 L228.53,366.62 L229.04,366.42 L229.55,366.17 L230.05,365.87 L230.56,365.51 L231.07,365.07 L231.57,364.57 L232.08,364.03 L232.59,363.52 L233.09,363.14 L233.60,363.00 L234.12,363.02 L234.63,363.08 L235.15,363.15 L235.66,363.22 L236.18,363.29 L236.69,363.34 L237.21,363.38 L237.72,363.41 L238.24,363.44 L238.75,363.46 L239.27,363.48 L239.78,363.49 L240.30,363.50 L240.82,363.01 L241.34,362.16 L241.86,360.59 L242.38,358.06 L242.90,356.30 L243.41,356.14 L243.93,355.92 L244.44,355.60 L244.95,355.13 L245.46,354.45 L245.97,353.53 L246.49,352.56 L247.00,352.10 L247.52,351.82 L248.04,351.32 L248.56,350.41 L249.08,348.93 L249.60,347.90 L249.6,347.9 C250.3,348.4 251.4,352.4 252.7,350.1 C254.0,347.8 253.8,343.8 255.0,338.0 C256.2,332.2 256.6,330.0 258.0,325.2 C259.4,320.4 259.5,320.0 261.0,317.3 C262.5,314.6 263.1,318.8 264.6,313.7 C266.1,308.6 266.4,302.2 267.3,295.5 C268.2,288.8 267.9,289.1 268.6,285.0 C269.3,280.9 269.6,280.7 270.5,278.0 C271.4,275.3 271.6,274.3 272.5,273.5 C273.4,272.7 273.8,274.9 274.5,274.5 C275.2,274.1 275.0,278.8 275.5,272.0 C276.0,265.2 276.2,253.3 276.8,245.2 C277.4,237.1 277.4,240.0 278.0,237.4 C278.6,234.8 278.6,236.1 279.5,234.0 C280.4,231.9 280.9,228.2 281.8,228.4 C282.7,228.6 282.6,231.4 283.2,235.0 C283.8,238.6 283.8,246.1 284.4,244.0 C285.0,241.9 285.1,232.3 285.8,226.0 C286.5,219.7 286.3,219.3 287.2,217.2 C288.1,215.1 289.0,216.0 289.8,217.0 C290.6,218.0 290.4,217.3 290.8,221.5 C291.2,225.7 291.0,228.1 291.5,235.0 C292.0,241.9 292.1,242.6 293.0,251.0 C293.9,259.4 294.4,262.1 295.5,271.0 C296.6,279.9 296.6,278.5 297.7,289.3 C298.8,300.1 298.4,304.4 300.0,317.3 C301.6,330.2 301.8,333.5 304.6,344.6 C307.4,355.7 310.4,360.0 312.2,364.7" stroke="#ff0000"/>
<path d="M36.50,349.60 L37.00,349.29 L37.50,348.90 L38.00,348.43 L38.50,347.84 L39.00,347.10 L39.50,346.17 L40.00,344.99 L40.50,343.51 L41.00,341.71 L41.50,339.65 L42.00,337.56 L42.50,335.93 L43.00,335.30 L43.50,335.61 L44.00,336.46 L44.50,337.68 L45.00,339.06 L45.50,340.45 L46.00,341.75 L46.50,342.90 L47.00,343.90 L47.50,344.75 L48.00,345.47 L48.50,346.07 L49.00,346.58 L49.50,347.02 L50.00,347.38 L50.50,347.70 L51.00,347.97 L51.50,348.20 L52.00,348.40 L52.50,348.06 L53.00,347.67 L53.50,347.22 L54.00,346.70 L54.50,346.10 L55.00,345.40 L55.50,344.58 L56.00,343.62 L56.50,342.49 L57.00,341.16 L57.50,339.61 L58.00,337.81 L58.50,335.76 L59.00,333.50 L59.50,331.12 L60.00,328.79 L60.50,326.78 L61.00,325.40 L61.50,324.90 L62.02,325.33 L62.53,326.54 L63.05,328.29 L63.56,330.33 L64.08,332.40 L64.59,334.38 L65.11,336.16 L65.63,337.73 L66.14,339.08 L66.66,340.24 L67.17,341.23 L67.69,342.07 L68.21,342.78 L68.72,343.39 L69.24,343.92 L69.75,344.37 L70.27,344.76 L70.78,345.10 L71.30,345.40 L71.81,345.01 L72.32,344.55 L72.84,344.02 L73.35,343.40 L73.86,342.65 L74.37,341.77 L74.88,340.72 L75.39,339.46 L75.91,337.95 L76.42,336.15 L76.93,334.04 L77.44,331.62 L77.95,328.97 L78.46,326.27 L78.98,323.85 L79.49,322.13 L80.00,321.50 L80.52,322.06 L81.04,323.61 L81.57,325.84 L82.09,328.37 L82.61,330.90 L83.13,333.27 L83.66,335.37 L84.18,337.19 L84.70,338.74 L85.22,340.05 L85.74,341.15 L86.27,342.08 L86.79,342.87 L87.31,343.54 L87.83,344.12 L88.36,344.61 L88.88,345.03 L89.40,345.40 L89.91,345.06 L90.41,344.66 L90.92,344.19 L91.42,343.64 L91.93,342.99 L92.44,342.21 L92.94,341.29 L93.45,340.18 L93.95,338.85 L94.46,337.27 L94.96,335.42 L95.47,333.30 L95.98,330.97 L96.48,328.59 L96.99,326.46 L97.49,324.95 L98.00,324.40 L98.50,324.76 L99.00,325.77 L99.50,327.27 L100.00,329.06 L100.50,330.95 L101.00,332.81 L101.50,334.54 L102.00,336.11 L102.50,337.50 L103.00,338.71 L103.50,339.76 L104.00,340.67 L104.50,341.46 L105.00,342.14 L105.50,342.73 L106.00,343.25 L106.50,343.69 L107.00,344.08 L107.50,344.43 L108.00,344.73 L108.50,345.00 L109.00,344.77 L109.50,344.50 L110.00,344.18 L110.50,343.78 L111.00,343.31 L111.50,342.73 L112.00,342.01 L112.50,341.14 L113.00,340.08 L113.50,338.81 L114.00,337.35 L114.50,335.78 L115.00,334.30 L115.50,333.21 L116.00,332.80 L116.52,333.10 L117.03,333.91 L117.55,335.09 L118.07,336.42 L118.58,337.76 L119.10,339.00 L119.62,340.11 L120.13,341.07 L120.65,341.89 L121.17,342.58 L121.68,343.16 L122.20,343.65 L122.72,344.07 L123.23,344.42 L123.75,344.72 L124.27,344.98 L124.78,345.21 L125.30,345.40 L125.83,345.22 L126.35,345.01 L126.88,344.75 L127.40,344.45 L127.92,344.09 L128.45,343.66 L128.97,343.14 L129.50,342.50 L130.03,341.73 L130.55,340.82 L131.07,339.75 L131.60,338.55 L132.12,337.29 L132.65,336.14 L133.17,335.31 L133.70,335.00 L134.20,335.39 L134.70,336.29 L135.20,337.30 L135.70,338.16 L136.20,338.82 L136.70,339.31 L137.20,339.67 L137.70,339.94 L138.20,340.14 L138.70,340.30 L139.24,340.82 L139.77,341.90 L140.31,342.93 L140.85,343.69 L141.39,344.21 L141.93,344.57 L142.46,344.82 L143.00,345.00 L143.53,344.77 L144.05,344.50 L144.58,344.18 L145.11,343.78 L145.63,343.31 L146.16,342.73 L146.69,342.01 L147.21,341.14 L147.74,340.08 L148.27,338.81 L148.79,337.35 L149.32,335.78 L149.85,334.30 L150.37,333.21 L150.90,332.80 L151.45,333.25 L152.00,334.03 L152.55,334.60 L153.10,334.95 L153.65,335.17 L154.20,335.30 L154.72,335.43 L155.23,335.78 L155.75,336.28 L156.27,336.85 L156.78,337.42 L157.30,337.96 L157.82,338.43 L158.33,338.84 L158.85,339.19 L159.37,339.49 L159.88,339.74 L160.40,339.95 L160.92,340.13 L161.43,340.28 L161.95,340.41 L162.47,340.52 L162.98,340.62 L163.50,340.70 L164.03,340.24 L164.55,339.60 L165.07,338.67 L165.60,337.33 L166.12,335.37 L166.65,332.73 L167.17,329.93 L167.70,328.60 L168.22,328.84 L168.74,329.52 L169.26,330.52 L169.78,331.72 L170.30,332.99 L170.81,334.23 L171.33,335.39 L171.85,336.44 L172.37,337.37 L172.89,338.19 L173.41,338.89 L173.93,339.50 L174.45,340.03 L174.97,340.49 L175.49,340.88 L176.00,341.22 L176.52,341.52 L177.04,341.79 L177.56,342.02 L178.08,342.22 L178.60,342.40 L179.14,342.07 L179.68,341.64 L180.22,341.06 L180.76,340.29 L181.30,339.25 L181.84,337.84 L182.38,336.01 L182.92,333.86 L183.46,331.92 L184.00,331.10 L184.51,331.41 L185.02,332.27 L185.53,333.52 L186.04,334.96 L186.55,336.44 L187.06,337.85 L187.57,339.12 L188.08,340.24 L188.59,341.20 L189.11,342.03 L189.62,342.73 L190.13,343.33 L190.64,343.84 L191.15,344.27 L191.66,344.64 L192.17,344.97 L192.68,345.25 L193.19,345.49 L193.70,345.70 L194.23,345.52 L194.76,345.28 L195.29,344.97 L195.82,344.54 L196.35,343.97 L196.88,343.20 L197.41,342.19 L197.94,341.01 L198.47,339.95 L199.00,339.50 L199.52,339.74 L200.04,340.39 L200.57,341.33 L201.09,342.40 L201.61,343.47 L202.13,344.47 L202.66,345.36 L203.18,346.13 L203.70,346.78 L204.22,347.34 L204.74,347.80 L205.27,348.20 L205.79,348.53 L206.31,348.82 L206.83,349.06 L207.36,349.27 L207.88,349.44 L208.40,349.60 L208.94,349.54 L209.48,349.45 L210.02,349.34 L210.56,349.19 L211.10,348.99 L211.64,348.71 L212.18,348.36 L212.72,347.94 L213.26,347.56 L213.80,347.40 L214.30,347.48 L214.81,347.69 L215.31,348.01 L215.82,348.39 L216.32,348.80 L216.83,349.20 L217.33,349.57 L217.84,349.90 L218.34,350.20 L218.85,350.46 L219.35,350.68 L219.86,350.88 L220.36,351.04 L220.87,351.19 L221.37,351.32 L221.88,351.43 L222.38,351.52 L222.89,351.60 L223.39,351.68 L223.90,351.74 L224.40,351.80 L224.93,351.72 L225.45,351.60 L225.97,351.43 L226.50,351.19 L227.03,350.83 L227.55,350.35 L228.07,349.84 L228.60,349.60 L229.10,349.63 L229.60,349.70 L230.10,349.77 L230.60,349.84 L231.10,349.89 L231.60,349.93 L232.10,349.95 L232.60,349.97 L233.10,349.99 L233.60,350.00 L234.11,350.00 L234.62,350.00 L235.13,350.00 L235.64,350.00 L236.15,350.00 L236.66,350.00 L237.17,350.00 L237.68,350.00 L238.19,350.00 L238.70,350.00 L239.22,349.88 L239.74,349.73 L240.26,349.56 L240.77,349.35 L241.29,349.11 L241.81,348.81 L242.33,348.45 L242.85,348.02 L243.37,347.50 L243.89,346.87 L244.41,346.14 L244.93,345.32 L245.44,344.47 L245.96,343.68 L246.48,343.11 L247.00,342.90 L247.0,342.9 C247.8,343.2 248.4,346.4 250.4,344.0 C252.4,341.6 253.5,337.7 255.5,332.8 C257.5,327.9 257.4,327.0 259.1,322.8 C260.8,318.6 261.3,318.8 262.8,314.6 C264.3,310.4 264.0,311.8 265.5,304.6 C267.0,297.4 267.7,290.4 269.1,283.8 C270.5,277.2 270.4,280.3 271.5,276.5 C272.6,272.7 273.0,272.1 273.7,267.4 C274.4,262.7 274.0,261.8 274.6,256.4 C275.2,251.0 275.7,249.3 276.3,244.1 C276.9,238.9 276.7,239.5 277.3,234.0 C277.9,228.5 278.0,222.9 278.7,220.6 C279.4,218.3 279.4,226.0 280.1,224.2 C280.8,222.4 281.0,217.7 281.5,213.0 C282.0,208.3 282.0,207.8 282.4,204.0 C282.8,200.2 282.8,196.4 283.2,196.6 C283.6,196.8 283.7,201.5 284.0,205.0 C284.3,208.5 284.2,207.5 284.6,211.5 C285.0,215.5 285.2,216.8 285.6,222.0 C286.0,227.2 286.0,227.9 286.5,234.0 C287.0,240.1 287.0,241.5 287.6,248.0 C288.2,254.5 288.3,252.4 289.2,262.0 C290.1,271.6 290.0,276.4 291.5,289.3 C293.0,302.2 293.3,305.7 295.5,317.3 C297.7,328.9 298.4,331.5 301.0,339.2 C303.6,346.9 303.9,346.9 306.5,350.1 C309.1,353.3 310.9,352.2 312.2,352.8" stroke="#000"/>
</g>
<rect x="36.6" y="178.6" width="275.6" height="242.0" fill="none" stroke="#000" stroke-width="1.4"/>
<path d="M36.6,420.6v-6.0 M45.8,420.6v-3.0 M55.0,420.6v-3.0 M64.2,420.6v-3.0 M73.3,420.6v-6.0 M82.5,420.6v-3.0 M91.7,420.6v-3.0 M100.9,420.6v-3.0 M110.1,420.6v-6.0 M119.3,420.6v-3.0 M128.5,420.6v-3.0 M137.7,420.6v-3.0 M146.8,420.6v-6.0 M156.0,420.6v-3.0 M165.2,420.6v-3.0 M174.4,420.6v-3.0 M183.6,420.6v-6.0 M192.8,420.6v-3.0 M202.0,420.6v-3.0 M211.1,420.6v-3.0 M220.3,420.6v-6.0 M229.5,420.6v-3.0 M238.7,420.6v-3.0 M247.9,420.6v-3.0 M257.1,420.6v-6.0 M266.3,420.6v-3.0 M275.5,420.6v-3.0 M284.6,420.6v-3.0 M293.8,420.6v-6.0 M303.0,420.6v-3.0 M312.2,420.6v-3.0 M301.9,178.6v2.8 M284.8,178.6v2.8 M268.6,178.6v2.8 M253.2,178.6v2.8 M238.6,178.6v5.5 M224.7,178.6v2.8 M211.5,178.6v2.8 M198.9,178.6v2.8 M186.9,178.6v2.8 M175.4,178.6v5.5 M164.4,178.6v2.8 M153.8,178.6v2.8 M143.7,178.6v2.8 M134.0,178.6v2.8 M124.7,178.6v5.5 M115.8,178.6v2.8 M107.2,178.6v2.8 M98.9,178.6v2.8 M91.0,178.6v2.8 M83.3,178.6v5.5 M75.9,178.6v2.8 M68.8,178.6v2.8 M61.9,178.6v2.8 M55.2,178.6v2.8 M48.8,178.6v5.5 M42.6,178.6v2.8 M36.6,193.5h3.0 M312.2,193.5h-3.0 M36.6,207.8h3.0 M312.2,207.8h-3.0 M36.6,222.2h3.0 M312.2,222.2h-3.0 M36.6,236.5h6.0 M312.2,236.5h-6.0 M36.6,250.8h3.0 M312.2,250.8h-3.0 M36.6,265.2h3.0 M312.2,265.2h-3.0 M36.6,279.5h3.0 M312.2,279.5h-3.0 M36.6,293.8h6.0 M312.2,293.8h-6.0 M36.6,308.1h3.0 M312.2,308.1h-3.0 M36.6,322.5h3.0 M312.2,322.5h-3.0 M36.6,336.8h3.0 M312.2,336.8h-3.0 M36.6,351.1h6.0 M312.2,351.1h-6.0 M36.6,365.5h3.0 M312.2,365.5h-3.0 M36.6,379.8h3.0 M312.2,379.8h-3.0 M36.6,394.1h3.0 M312.2,394.1h-3.0 M36.6,408.5h6.0 M312.2,408.5h-6.0" stroke="#000" stroke-width="1.2" fill="none"/>
<text x="36.6" y="434.3" font-size="12" fill="#000" text-anchor="middle" >2</text>
<text x="73.3" y="434.3" font-size="12" fill="#000" text-anchor="middle" >2.2</text>
<text x="110.1" y="434.3" font-size="12" fill="#000" text-anchor="middle" >2.4</text>
<text x="146.8" y="434.3" font-size="12" fill="#000" text-anchor="middle" >2.6</text>
<text x="183.6" y="434.3" font-size="12" fill="#000" text-anchor="middle" >2.8</text>
<text x="220.3" y="434.3" font-size="12" fill="#000" text-anchor="middle" >3</text>
<text x="257.1" y="434.3" font-size="12" fill="#000" text-anchor="middle" >3.2</text>
<text x="293.8" y="434.3" font-size="12" fill="#000" text-anchor="middle" >3.4</text>
<text x="48.8" y="174.6" font-size="12" fill="#000" text-anchor="middle" >600</text>
<text x="83.3" y="174.6" font-size="12" fill="#000" text-anchor="middle" >550</text>
<text x="124.7" y="174.6" font-size="12" fill="#000" text-anchor="middle" >500</text>
<text x="175.4" y="174.6" font-size="12" fill="#000" text-anchor="middle" >450</text>
<text x="238.6" y="174.6" font-size="12" fill="#000" text-anchor="middle" >400</text>
<text x="175.2" y="449.2" font-size="12.3" fill="#000" text-anchor="middle" >Energy (eV)</text>
<text x="175.6" y="156.9" font-size="12.6" fill="#000" text-anchor="middle" >Wavelength (nm)</text>
<text x="21.4" y="166.7" font-size="16.5" fill="#000" text-anchor="start" >(c)</text>
<text transform="translate(27,298) rotate(-90)" font-size="13" text-anchor="middle">CL intensity (arb. units)</text>
<rect x="45.5" y="187.6" width="171" height="63" fill="#fff" stroke="#000" stroke-width="1"/>
<line x1="48.8" y1="196.3" x2="60.7" y2="196.3" stroke="#000" stroke-width="1.3"/>
<text x="66.3" y="200.7" font-size="12.5" fill="#000" text-anchor="start" >Sec. 4: no silane supply</text>
<line x1="48.8" y1="211.4" x2="60.7" y2="211.4" stroke="#ff0000" stroke-width="1.3"/>
<text x="66.3" y="215.8" font-size="12.5" fill="#000" text-anchor="start" >Sec. 3: 7 x 0.045 μmol/min</text>
<line x1="48.8" y1="226.5" x2="60.7" y2="226.5" stroke="#008000" stroke-width="1.3"/>
<text x="66.3" y="230.9" font-size="12.5" fill="#000" text-anchor="start" >Sec. 2: 4 x 0.045 μmol/min</text>
<line x1="48.8" y1="241.6" x2="60.7" y2="241.6" stroke="#0000ff" stroke-width="1.3"/>
<text x="66.3" y="246.0" font-size="12.5" fill="#000" text-anchor="start" >Sec. 1: 1 x 0.045 μmol/min</text>
<text transform="translate(51.2,303.9) rotate(-90) scale(0.87,1)" font-size="11.2" stroke="#000" stroke-width="0.3">TM<tspan font-size="9" dy="4.4" stroke-width="0.1">18</tspan></text>
<text transform="translate(88.0,303.1) rotate(-90) scale(0.87,1)" font-size="11.2" stroke="#000" stroke-width="0.3">TM<tspan font-size="9" dy="4.4" stroke-width="0.1">20</tspan></text>
<text transform="translate(124.0,302.3) rotate(-90) scale(0.87,1)" font-size="11.2" stroke="#000" stroke-width="0.3">TM<tspan font-size="9" dy="4.4" stroke-width="0.1">22</tspan></text>
<text transform="translate(158.7,298.1) rotate(-90) scale(0.87,1)" font-size="11.2" stroke="#000" stroke-width="0.3">TM<tspan font-size="9" dy="4.4" stroke-width="0.1">24</tspan></text>
<text transform="translate(191.3,299.8) rotate(-90) scale(0.87,1)" font-size="11.2" stroke="#000" stroke-width="0.3">TM<tspan font-size="9" dy="4.4" stroke-width="0.1">26</tspan></text>
<text transform="translate(222.1,304.6) rotate(-90) scale(0.87,1)" font-size="11.2" stroke="#000" stroke-width="0.3">TM<tspan font-size="9" dy="4.4" stroke-width="0.1">28</tspan></text>
<text transform="translate(250.0,304.6) rotate(-90) scale(0.87,1)" font-size="11.2" stroke="#000" stroke-width="0.3">TM<tspan font-size="9" dy="4.4" stroke-width="0.1">30</tspan></text>
<text transform="translate(268.4,266.0) rotate(-90) scale(0.87,1)" font-size="11.2" stroke="#000" stroke-width="0.3">TM<tspan font-size="9" dy="4.4" stroke-width="0.1">32</tspan></text>
<text transform="translate(128.4,418.6) rotate(-90) scale(0.87,1)" font-size="11.2" stroke="#000" stroke-width="0.3">TE<tspan font-size="9" dy="4.4" stroke-width="0.1">21</tspan></text>
<text transform="translate(164.6,418.0) rotate(-90) scale(0.87,1)" font-size="11.2" stroke="#000" stroke-width="0.3">TE<tspan font-size="9" dy="4.4" stroke-width="0.1">23</tspan></text>
<text transform="translate(197.6,418.0) rotate(-90) scale(0.87,1)" font-size="11.2" stroke="#000" stroke-width="0.3">TE<tspan font-size="9" dy="4.4" stroke-width="0.1">25</tspan></text>
<text transform="translate(256.8,417.8) rotate(-90) scale(0.87,1)" font-size="11.2" stroke="#000" stroke-width="0.3">TE<tspan font-size="9" dy="4.4" stroke-width="0.1">29</tspan></text>
<text transform="translate(286.3,416.3) rotate(-90) scale(0.87,1)" font-size="11.2" stroke="#000" stroke-width="0.3">TE<tspan font-size="9" dy="4.4" stroke-width="0.1">32</tspan></text>
<text x="284.6" y="191.7" font-size="10.6" stroke="#000" stroke-width="0.25">TM<tspan font-size="8.4" dy="4.6" stroke-width="0.1">34</tspan></text>
<rect x="37.4" y="493.3" width="275.9" height="199.2" fill="none" stroke="#000" stroke-width="1.4"/>
<path d="M37.4,687.5h3.0 M313.3,687.5h-3.0 M37.4,682.5h3.0 M313.3,682.5h-3.0 M37.4,677.6h3.0 M313.3,677.6h-3.0 M37.4,672.6h3.0 M313.3,672.6h-3.0 M37.4,667.6h6.5 M313.3,667.6h-6.5 M37.4,662.6h3.0 M313.3,662.6h-3.0 M37.4,657.6h3.0 M313.3,657.6h-3.0 M37.4,652.7h3.0 M313.3,652.7h-3.0 M37.4,647.7h3.0 M313.3,647.7h-3.0 M37.4,642.7h6.5 M313.3,642.7h-6.5 M37.4,637.7h3.0 M313.3,637.7h-3.0 M37.4,632.7h3.0 M313.3,632.7h-3.0 M37.4,627.8h3.0 M313.3,627.8h-3.0 M37.4,622.8h3.0 M313.3,622.8h-3.0 M37.4,617.8h6.5 M313.3,617.8h-6.5 M37.4,612.8h3.0 M313.3,612.8h-3.0 M37.4,607.8h3.0 M313.3,607.8h-3.0 M37.4,602.9h3.0 M313.3,602.9h-3.0 M37.4,597.9h3.0 M313.3,597.9h-3.0 M37.4,592.9h6.5 M313.3,592.9h-6.5 M37.4,587.9h3.0 M313.3,587.9h-3.0 M37.4,582.9h3.0 M313.3,582.9h-3.0 M37.4,578.0h3.0 M313.3,578.0h-3.0 M37.4,573.0h3.0 M313.3,573.0h-3.0 M37.4,568.0h6.5 M313.3,568.0h-6.5 M37.4,563.0h3.0 M313.3,563.0h-3.0 M37.4,558.0h3.0 M313.3,558.0h-3.0 M37.4,553.1h3.0 M313.3,553.1h-3.0 M37.4,548.1h3.0 M313.3,548.1h-3.0 M37.4,543.1h6.5 M313.3,543.1h-6.5 M37.4,538.1h3.0 M313.3,538.1h-3.0 M37.4,533.1h3.0 M313.3,533.1h-3.0 M37.4,528.2h3.0 M313.3,528.2h-3.0 M37.4,523.2h3.0 M313.3,523.2h-3.0 M37.4,518.2h6.5 M313.3,518.2h-6.5 M37.4,513.2h3.0 M313.3,513.2h-3.0 M37.4,508.2h3.0 M313.3,508.2h-3.0 M37.4,503.3h3.0 M313.3,503.3h-3.0 M37.4,498.3h3.0 M313.3,498.3h-3.0 M72.2,692.5v-6.5 M72.2,493.3v6.5 M140.9,692.5v-6.5 M140.9,493.3v6.5 M209.6,692.5v-6.5 M209.6,493.3v6.5 M278.3,692.5v-6.5 M278.3,493.3v6.5" stroke="#000" stroke-width="1.2" fill="none"/>
<text x="32.3" y="696.7" font-size="12.3" fill="#000" text-anchor="end" >-5</text>
<text x="32.3" y="671.8" font-size="12.3" fill="#000" text-anchor="end" >0</text>
<text x="32.3" y="646.9" font-size="12.3" fill="#000" text-anchor="end" >5</text>
<text x="32.3" y="622.0" font-size="12.3" fill="#000" text-anchor="end" >10</text>
<text x="32.3" y="597.1" font-size="12.3" fill="#000" text-anchor="end" >15</text>
<text x="32.3" y="572.2" font-size="12.3" fill="#000" text-anchor="end" >20</text>
<text x="32.3" y="547.3" font-size="12.3" fill="#000" text-anchor="end" >25</text>
<text x="32.3" y="522.4" font-size="12.3" fill="#000" text-anchor="end" >30</text>
<text x="32.3" y="497.5" font-size="12.3" fill="#000" text-anchor="end" >35</text>
<text x="317.5" y="671.8" font-size="12.3" fill="#ff0000" text-anchor="start" >0</text>
<text x="317.5" y="646.9" font-size="12.3" fill="#ff0000" text-anchor="start" >25</text>
<text x="317.5" y="622.0" font-size="12.3" fill="#ff0000" text-anchor="start" >50</text>
<text x="317.5" y="597.1" font-size="12.3" fill="#ff0000" text-anchor="start" >75</text>
<text x="317.5" y="572.2" font-size="12.3" fill="#ff0000" text-anchor="start" >100</text>
<text x="317.5" y="547.3" font-size="12.3" fill="#ff0000" text-anchor="start" >125</text>
<text x="317.5" y="522.4" font-size="12.3" fill="#ff0000" text-anchor="start" >150</text>
<text x="317.5" y="497.5" font-size="12.3" fill="#ff0000" text-anchor="start" >175</text>
<text x="72.2" y="708.4" font-size="13" fill="#000" text-anchor="middle" >1</text>
<text x="140.9" y="708.4" font-size="13" fill="#000" text-anchor="middle" >2</text>
<text x="209.6" y="708.4" font-size="13" fill="#000" text-anchor="middle" >3</text>
<text x="278.3" y="708.4" font-size="13" fill="#000" text-anchor="middle" >4</text>
<text x="72.2" y="489.5" font-size="13" fill="#000" text-anchor="middle" >1</text>
<text x="140.9" y="489.5" font-size="13" fill="#000" text-anchor="middle" >4</text>
<text x="209.6" y="489.5" font-size="13" fill="#000" text-anchor="middle" >7</text>
<text x="278.3" y="489.5" font-size="13" fill="#000" text-anchor="middle" >0</text>
<text x="175.5" y="722.5" font-size="13.2" fill="#000" text-anchor="middle" >Section no.</text>
<text x="175.3" y="470.0" font-size="13.3" fill="#000" text-anchor="middle" >Silane flow (x 0.045 μmol/min)</text>
<text x="20.0" y="475.8" font-size="16" fill="#000" text-anchor="start" >(d)</text>
<text transform="translate(9.8,592) rotate(-90)" font-size="13.4" text-anchor="middle">Energy shift (meV)</text>
<text transform="translate(354.0,592.4) rotate(-90)" font-size="13.1" text-anchor="middle" fill="#ff0000">FWHM of NBE emission (meV)</text>
<polyline points="72.2,667.6 140.9,647.2 209.6,637.7 278.3,666.1" fill="none" stroke="#ffa500" stroke-width="1.4" stroke-dasharray="7,4.5"/>
<path d="M137.9,644.2l6,6m0,-6l-6,6" stroke="#ffa500" stroke-width="1.3"/>
<path d="M206.6,634.7l6,6m0,-6l-6,6" stroke="#ffa500" stroke-width="1.3"/>
<path d="M275.3,663.1l6,6m0,-6l-6,6" stroke="#ffa500" stroke-width="1.3"/>
<polyline points="72.2,667.6 140.9,637.7 209.6,622.3 278.3,666.6" fill="none" stroke="#008000" stroke-width="1.4" stroke-dasharray="7,4.5"/>
<path d="M137.9,634.7l6,6m0,-6l-6,6" stroke="#008000" stroke-width="1.3"/>
<path d="M206.6,619.3l6,6m0,-6l-6,6" stroke="#008000" stroke-width="1.3"/>
<path d="M275.3,663.6l6,6m0,-6l-6,6" stroke="#008000" stroke-width="1.3"/>
<polyline points="72.2,667.6 140.9,627.8 209.6,602.9 278.3,672.1" fill="none" stroke="#0000ff" stroke-width="1.4" stroke-dasharray="7,4.5"/>
<path d="M137.9,624.8l6,6m0,-6l-6,6" stroke="#0000ff" stroke-width="1.3"/>
<path d="M206.6,599.9l6,6m0,-6l-6,6" stroke="#0000ff" stroke-width="1.3"/>
<path d="M275.3,669.1l6,6m0,-6l-6,6" stroke="#0000ff" stroke-width="1.3"/>
<polyline points="72.2,667.6 140.9,597.9 209.6,517.7 278.3,678.1" fill="none" stroke="#9400d3" stroke-width="1.4" stroke-dasharray="7,4.5"/>
<path d="M137.9,594.9l6,6m0,-6l-6,6" stroke="#9400d3" stroke-width="1.3"/>
<path d="M206.6,514.7l6,6m0,-6l-6,6" stroke="#9400d3" stroke-width="1.3"/>
<path d="M275.3,675.1l6,6m0,-6l-6,6" stroke="#9400d3" stroke-width="1.3"/>
<polyline points="72.2,667.6 140.9,573.0 209.6,498.3 278.3,688.0" fill="none" stroke="#000" stroke-width="1.4"/>
<path d="M69.2,664.6l6,6m0,-6l-6,6" stroke="#000" stroke-width="1.3"/>
<path d="M137.9,570.0l6,6m0,-6l-6,6" stroke="#000" stroke-width="1.3"/>
<path d="M206.6,495.3l6,6m0,-6l-6,6" stroke="#000" stroke-width="1.3"/>
<path d="M275.3,685.0l6,6m0,-6l-6,6" stroke="#000" stroke-width="1.3"/>
<polyline points="72.2,562.0 140.9,527.2 209.6,504.3 278.3,565.0" fill="none" stroke="#ff0000" stroke-width="1.9" stroke-dasharray="0.01,5.2" stroke-linecap="round"/>
<circle cx="72.2" cy="562.0" r="4" fill="#fff" stroke="#ff0000" stroke-width="1.4"/>
<circle cx="72.2" cy="562.0" r="0.9" fill="#ff0000"/>
<circle cx="140.9" cy="527.2" r="4" fill="#fff" stroke="#ff0000" stroke-width="1.4"/>
<circle cx="140.9" cy="527.2" r="0.9" fill="#ff0000"/>
<circle cx="209.6" cy="504.3" r="4" fill="#fff" stroke="#ff0000" stroke-width="1.4"/>
<circle cx="209.6" cy="504.3" r="0.9" fill="#ff0000"/>
<circle cx="278.3" cy="565.0" r="4" fill="#fff" stroke="#ff0000" stroke-width="1.4"/>
<line x1="253" y1="542.6" x2="300" y2="542.6" stroke="#ff0000" stroke-width="1.1"/>
<path d="M293,538.6 L301,542.6 L293,546.6" fill="none" stroke="#ff0000" stroke-width="1.1"/>
<ellipse cx="93.2" cy="653.5" rx="13.5" ry="20" transform="rotate(15 93.2 653.5)" fill="none" stroke="#000" stroke-width="1"/>
<line x1="98" y1="634.2" x2="46" y2="634.2" stroke="#000" stroke-width="1.1"/>
<path d="M54,630.2 L45.5,634.2 L54,638.2" fill="none" stroke="#000" stroke-width="1.1"/>
<text transform="translate(49.6,661.2) scale(0.85,1)" font-size="11.6">point</text>
<text transform="translate(49.6,669.8) scale(0.85,1)" font-size="11.6">of</text>
<text transform="translate(49.6,680.2) scale(0.85,1)" font-size="11.6">reference</text>
<text transform="translate(84.2,621.2) rotate(-50) scale(0.75,1)" font-size="13">NBE emission</text>
<text transform="translate(92.2,629.0) rotate(-50.5) scale(0.75,1)" font-size="13">(high energy edge)</text>
<text transform="translate(147,603) rotate(-47.5) scale(0.9,1)" font-size="11.2" fill="#9400d3">TM<tspan font-size="8" dy="3">34</tspan><tspan dy="-3"> WGM at 3.34 eV</tspan></text>
<text transform="translate(137.3,621.6) rotate(-17) scale(0.9,1)" font-size="11.2" fill="#0000ff">TE<tspan font-size="8" dy="3">30</tspan><tspan dy="-3"> WGM at 3.2 eV</tspan></text>
<text transform="translate(144.8,647.3) rotate(-12.5) scale(0.9,1)" font-size="11.2" fill="#008000">TM<tspan font-size="8" dy="3">26</tspan><tspan dy="-3"> WGM at 2.8 eV</tspan></text>
<text transform="translate(117.5,668.2) rotate(-9) scale(0.9,1)" font-size="11.2" fill="#ffa500">TM<tspan font-size="8" dy="3">19</tspan><tspan dy="-3"> WGM at 2.15 eV</tspan></text>
</svg>
</body></html>
